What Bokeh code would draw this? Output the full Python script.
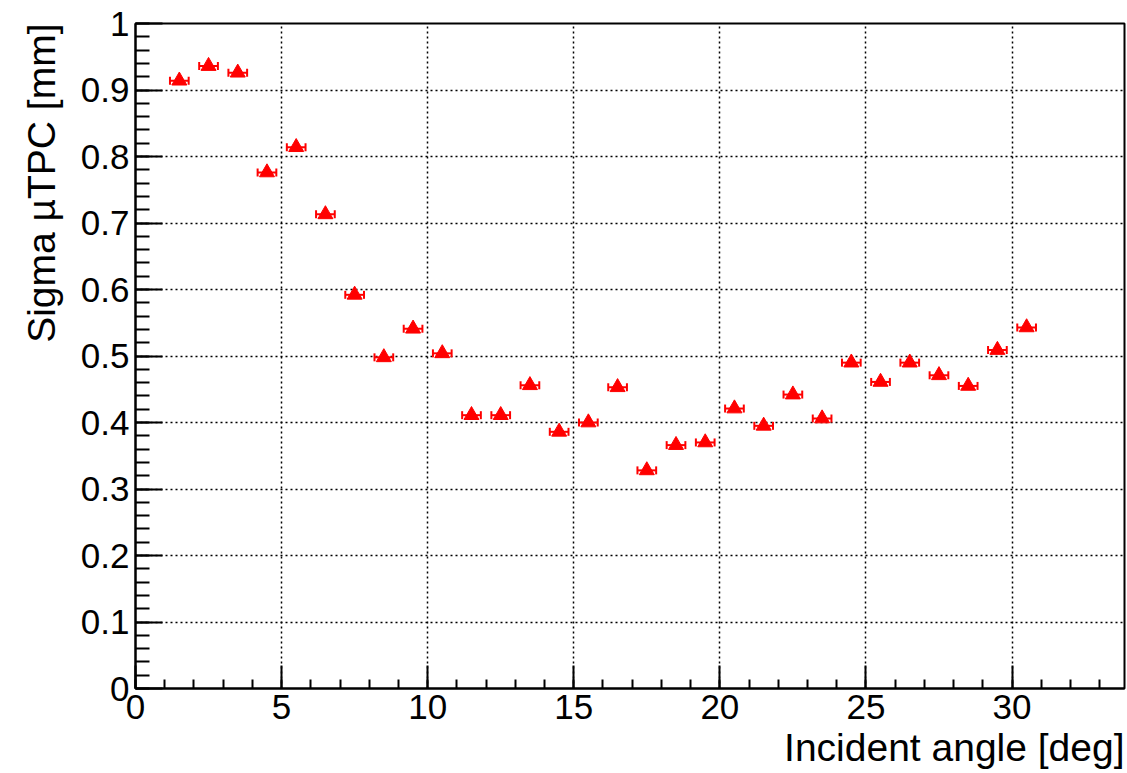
from bokeh.plotting import figure
from bokeh.models import Range1d, Whisker, ColumnDataSource, FixedTicker, TeeHead, Title
from bokeh.embed import file_html
from bokeh.resources import INLINE

angle = [1.5, 2.5, 3.5, 4.5, 5.5, 6.5, 7.5, 8.5, 9.5, 10.5,
         11.5, 12.5, 13.5, 14.5, 15.5, 16.5, 17.5, 18.5, 19.5, 20.5,
         21.5, 22.5, 23.5, 24.5, 25.5, 26.5, 27.5, 28.5, 29.5, 30.5]
sigma = [0.914, 0.936, 0.926, 0.776, 0.814, 0.713, 0.592, 0.498, 0.541, 0.504,
         0.411, 0.411, 0.456, 0.386, 0.400, 0.453, 0.328, 0.366, 0.370, 0.421,
         0.395, 0.442, 0.406, 0.490, 0.461, 0.490, 0.471, 0.455, 0.509, 0.543]
angle_err = [0.32] * len(angle)

x_ticks = [0, 5, 10, 15, 20, 25, 30]
y_ticks = [0, 0.1, 0.2, 0.3, 0.4, 0.5, 0.6, 0.7, 0.8, 0.9, 1.0]
x_title = "Incident angle [deg]"
y_title = "Sigma \u00b5TPC [mm]"

FONT = "Liberation Sans"

src = ColumnDataSource(dict(
    x=angle, y=sigma,
    xl=[a - e for a, e in zip(angle, angle_err)],
    xh=[a + e for a, e in zip(angle, angle_err)],
))

p = figure(width=1127, height=773, output_backend="svg", toolbar_location=None,
           x_range=Range1d(0, 33.85), y_range=Range1d(0, 1),
           min_border_left=135, min_border_right=3, min_border_top=23, min_border_bottom=85)
p.background_fill_color = "white"
p.border_fill_color = "white"
p.outline_line_color = "black"
p.outline_line_width = 2

for ax, minor_in in ((p.xaxis[0], 9), (p.yaxis[0], 14)):
    ax.axis_line_color = "black"
    ax.axis_line_width = 2
    ax.major_tick_line_color = "black"
    ax.major_tick_line_width = 2
    ax.minor_tick_line_color = "black"
    ax.minor_tick_line_width = 2
    ax.major_tick_out = 0
    ax.minor_tick_out = 0
    ax.minor_tick_in = minor_in
    ax.major_label_text_font = FONT
    ax.major_label_text_font_size = "35px"
    ax.major_label_text_color = "black"

p.xaxis[0].ticker = FixedTicker(ticks=x_ticks, minor_ticks=[i for i in range(0, 34)])
p.yaxis[0].ticker = FixedTicker(ticks=y_ticks, minor_ticks=[i * 0.02 for i in range(0, 51)])
p.xaxis[0].major_tick_in = 23
p.yaxis[0].major_tick_in = 27
p.xaxis[0].major_label_standoff = 6
p.yaxis[0].major_label_standoff = 6
p.yaxis[0].major_label_overrides = {0: "0", 1: "1"}


def make_title(text, standoff):
    return Title(text=text, align="right", text_font=FONT, text_font_size="39px",
                 text_font_style="normal", text_color="black", standoff=standoff,
                 offset=0)


p.add_layout(make_title(x_title, 5), "below")
p.add_layout(make_title(y_title, 30), "left")

p.xgrid.grid_line_color = "black"
p.ygrid.grid_line_color = "black"
p.xgrid.grid_line_dash = "2 3"
p.ygrid.grid_line_dash = "2 3"
p.xgrid.grid_line_width = 1.5
p.ygrid.grid_line_width = 1.5
p.xgrid.ticker = FixedTicker(ticks=x_ticks)
p.ygrid.ticker = FixedTicker(ticks=y_ticks)

w = Whisker(source=src, base="y", lower="xl", upper="xh", dimension="width",
            line_color="red", line_width=2,
            lower_head=TeeHead(size=8, line_color="red", line_width=2),
            upper_head=TeeHead(size=8, line_color="red", line_width=2))
p.add_layout(w)
p.scatter("x", "y", source=src, marker="triangle", size=15,
          fill_color="red", line_color="red")

open("out.html", "w").write(file_html(p, INLINE))
